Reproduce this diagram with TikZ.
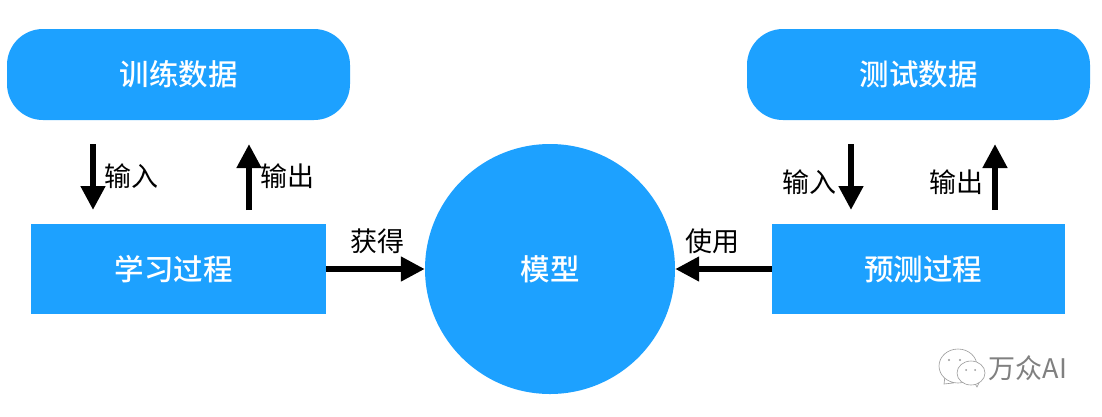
\documentclass[tikz,border=0pt]{standalone}
\usepackage{fontspec}
\setmainfont{Noto Sans CJK SC}
\newfontfamily\cjkmed{Noto Sans CJK SC Medium}
\usetikzlibrary{arrows.meta}
\definecolor{bluefill}{HTML}{1DA1FF}
\tikzset{
  x=1pt,y=-1pt,
  box/.style={fill=bluefill,text=white,font=\fontsize{29.5}{30}\cjkmed,inner sep=0pt,minimum height=90pt},
  rbox/.style={box,rounded corners=36pt,minimum width=343pt,minimum height=91pt},
  ball/.style={circle,fill=bluefill,text=white,font=\fontsize{29.5}{30}\cjkmed,inner sep=0pt,minimum size=250pt},
  lab/.style={font=\fontsize{27}{27}\selectfont,text=black,inner sep=0pt},
  flow/.style={line width=6pt,-{Triangle[length=24pt,width=23.5pt]},shorten >=0pt,shorten <=0pt},
  bubble/.style={draw=black!40,line width=.6pt,fill=white},
  wm/.style={font=\fontsize{27}{27}\selectfont,text=black!50,inner sep=0pt}
}
\begin{document}
\begin{tikzpicture}
\useasboundingbox (0,0) rectangle (1102,416);
\fill[white] (0,0) rectangle (1102,416);
\node[rbox] (train) at (178.5,74.5) {训练数据};
\node[rbox] (test) at (918.5,74.5) {测试数据};
\node[box,minimum width=295pt] (learn) at (178.5,269) {\hspace*{-10pt}学习过程};
\node[box,minimum width=293pt] (pred) at (918.5,269) {\hspace*{9pt}预测过程};
\node[ball] (model) at (550,269) {模型};
\coordinate (a1s) at (93,144); \coordinate (a1e) at (93,210);
\coordinate (a2s) at (249,210); \coordinate (a2e) at (249,144);
\coordinate (a3s) at (851,144); \coordinate (a3e) at (851,210);
\coordinate (a4s) at (995,210); \coordinate (a4e) at (995,144);
\draw[flow] (a1s) -- (a1e);
\draw[flow] (a2s) -- (a2e);
\draw[flow] (a3s) -- (a3e);
\draw[flow] (a4s) -- (a4e);
\draw[flow] (learn.east) -- (model.west);
\draw[flow] (pred.west) -- (model.east);
\node[lab] (l1) at (131,176) {输入};
\node[lab] (l2) at (287,176) {输出};
\node[lab] (l3) at (809,182) {输入};
\node[lab] (l4) at (956,182) {输出};
\node[lab] (l5) at (377,241) {获得};
\node[lab] (l6) at (712,241) {使用};
% watermark
\draw[bubble] (944,384) -- (945,376) -- (953,383) -- cycle;
\draw[bubble] (958,366) ellipse [x radius=19pt, y radius=17pt];
\draw[bubble] (974,382) -- (977,387) -- (979,383) -- cycle;
\draw[bubble] (971,373) ellipse [x radius=14pt, y radius=12pt];
\fill[black!40] (949,360) circle (1.2pt) (960,360) circle (1.2pt) (966,370) circle (1pt) (975,370) circle (1pt);
\node[wm] (wmt) at (1028,368) {万众AI};
\end{tikzpicture}
\end{document}
